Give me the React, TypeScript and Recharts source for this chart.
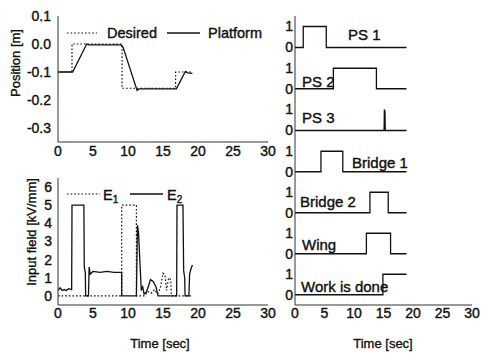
import React from 'react';
import { LineChart, Line, XAxis, YAxis, Legend } from 'recharts';

const FONT = '"Liberation Sans", Arial, Helvetica, sans-serif';
const INK = '#111';
const FRAME = '#333';

// ---- shared ticks ----
const timeTicks = [0, 5, 10, 15, 20, 25, 30];
const posTicks = [-0.3, -0.2, -0.1, 0, 0.1];
const fieldTicks = [0, 1, 2, 3, 4, 5, 6];
const sensorTicks = [0, 1];

// ---- Position [m] ----
const desiredT = [0, 2, 2, 9.15, 9.15, 16.8, 16.8, 19.15];
const desiredV = [-0.1, -0.1, 0, 0, -0.158, -0.158, -0.1, -0.1];
const platformT = [0, 2.1, 4.1, 4.4, 9.0, 9.3, 11.3, 11.6, 16.9, 18.2, 18.5, 19.2];
const platformV = [-0.1, -0.1, 0, -0.003, -0.003, -0.012, -0.166, -0.16, -0.16, -0.098, -0.103, -0.105];

// ---- Input field [kV/mm] ----
const e1T = [0, 9.1, 9.1, 11.2, 11.2, 12.4, 12.8, 13.3, 13.8, 14.2, 14.6, 15.0, 15.3, 15.5, 15.8, 16.1, 16.2, 19.2];
const e1V = [0, 0, 5, 5, 0, 0, 0.25, 0.15, 0.35, 0.1, 0.4, 1.25, 1.15, 0.3, 1.0, 0.9, 0, 0];
const e2T = [0, 0.3, 0.6, 0.9, 1.2, 1.5, 1.95, 2.0, 3.7, 3.75, 3.9, 3.95, 4.35, 4.45, 4.6, 5.0, 6.0, 7.0, 8.0, 9.1, 9.1, 11.2, 11.35, 11.5, 11.9, 12.1, 12.3, 12.6, 12.9, 13.2, 13.6, 14.0, 14.3, 16.95, 17.0, 17.85, 17.95, 18.1, 18.15, 18.7, 18.8, 19.0, 19.2];
const e2V = [0.3, 0.45, 0.3, 0.35, 0.3, 0.4, 0.35, 5, 5, 1.6, 1.3, 0, 0, 1.6, 1.2, 1.35, 1.3, 1.35, 1.3, 1.3, 0, 0, 3.9, 3.5, 0.3, 0.5, 0.1, 0.2, 0.5, 0.9, 0.8, 0.5, 0, 0, 5, 5, 1.4, 1.0, 0, 0, 1.2, 1.5, 1.7];

// ---- sensor states ----
const sensorNames = ['PS 1', 'PS 2', 'PS 3', 'Bridge 1', 'Bridge 2', 'Wing', 'Work is done'];
const ps1T = [0, 1.4, 1.4, 5.3, 5.3, 18.9];
const ps1V = [0, 0, 1, 1, 0, 0];
const ps2T = [0, 6.5, 6.5, 13.8, 13.8, 18.9];
const ps2V = [0, 0, 1, 1, 0, 0];
const ps3T = [0, 15.1, 15.15, 15.25, 15.3, 18.9];
const ps3V = [0, 0, 1, 0.9, 0, 0];
const bridge1T = [0, 4.4, 4.4, 8.1, 8.1, 18.9];
const bridge1V = [0, 0, 1, 1, 0, 0];
const bridge2T = [0, 12.7, 12.7, 15.8, 15.8, 18.9];
const bridge2V = [0, 0, 1, 1, 0, 0];
const wingT = [0, 12.1, 12.1, 16.2, 16.2, 18.9];
const wingV = [0, 0, 1, 1, 0, 0];
const doneT = [0, 14.9, 14.9, 18.9];
const doneV = [0, 0, 1, 1];

const zip = (t: number[], v: number[]) => t.map((x, i) => ({ t: x, v: v[i] }));

const sensorSeries = [
  zip(ps1T, ps1V),
  zip(ps2T, ps2V),
  zip(ps3T, ps3V),
  zip(bridge1T, bridge1V),
  zip(bridge2T, bridge2V),
  zip(wingT, wingV),
  zip(doneT, doneV),
];

// ---- layout (styles only) ----
const panelTops = [16, 58, 99, 141, 182, 223, 264];
const panelBottom = 305;
const panelLabelPos = [
  { x: 78, cy: 19 },
  { x: 32, cy: 24 },
  { x: 32, cy: 19 },
  { x: 82, cy: 22 },
  { x: 30, cy: 20 },
  { x: 32, cy: 22 },
  { x: 31, cy: 23 },
];

const HEAVY = { stroke: INK, strokeWidth: 0.4 };
const tickStyle = { fontFamily: FONT, fontSize: 14, fill: INK, ...HEAVY };
const DOT = '1.6 2';

const title = (text: string, x: number, y: number, rotate: boolean) => () => (
  <text
    x={x}
    y={y}
    textAnchor="middle"
    dominantBaseline="central"
    transform={rotate ? `rotate(-90 ${x} ${y})` : undefined}
    fontFamily={FONT}
    fontSize={13}
    fill={INK}
    stroke={INK}
    strokeWidth={0.35}
  >
    {text}
  </text>
);

export default function App() {
  return (
    <div style={{ position: 'absolute', left: 0, top: 0, width: 481, height: 356, background: '#fff', overflow: 'hidden' }}>
      {/* Position chart */}
      <div style={{ position: 'absolute', left: 0, top: 0 }}>
        <LineChart width={285} height={160} margin={{ top: 16, right: 17, left: 0, bottom: 0 }}>
          <XAxis dataKey="t" type="number" domain={[0, 30]} ticks={timeTicks} interval={0} allowDataOverflow
            tickLine={false} tickSize={0} tickMargin={4} height={18} axisLine={{ stroke: FRAME }} tick={tickStyle} />
          <XAxis xAxisId="top" orientation="top" dataKey="t" type="number" domain={[0, 30]} ticks={timeTicks} mirror height={0}
            tick={false} tickSize={3} tickLine={{ stroke: FRAME }} axisLine={{ stroke: FRAME }} />
          <XAxis xAxisId="in" dataKey="t" type="number" domain={[0, 30]} ticks={timeTicks} mirror height={0}
            tick={false} tickSize={3} tickLine={{ stroke: FRAME }} axisLine={false} />
          <YAxis type="number" domain={[-0.35, 0.1]} ticks={posTicks} interval={0} allowDataOverflow width={58}
            tickFormatter={(v: number) => v.toFixed(1)} tickLine={false} tickSize={0} tickMargin={7}
            axisLine={{ stroke: FRAME }} tick={tickStyle}
            label={title('Position [m]', 15, 63, true)} />
          <YAxis yAxisId="right" orientation="right" type="number" domain={[-0.35, 0.1]} ticks={posTicks} mirror width={0}
            tick={false} tickSize={3} tickLine={{ stroke: FRAME }} axisLine={{ stroke: FRAME }} />
          <YAxis yAxisId="in" type="number" domain={[-0.35, 0.1]} ticks={posTicks} mirror width={0}
            tick={false} tickSize={3} tickLine={{ stroke: FRAME }} axisLine={false} />
          <Line data={zip(desiredT, desiredV)} dataKey="v" name="Desired" type="linear" stroke={INK} strokeWidth={1.2}
            strokeDasharray={DOT} dot={false} activeDot={false} isAnimationActive={false} />
          <Line data={zip(platformT, platformV)} dataKey="v" name="Platform" type="linear" stroke={INK} strokeWidth={1.3}
            dot={false} activeDot={false} isAnimationActive={false} />
          <Legend layout="vertical" align="center" verticalAlign="middle"
            wrapperStyle={{ left: 0, top: 0, width: 272, height: 50 }}
            content={() => (
              <svg width={272} height={50} style={{ display: 'block' }}>
                <line x1={67} x2={97} y1={33} y2={33} stroke={INK} strokeWidth={1.2} strokeDasharray={DOT} />
                <text x={107} y={38} fontFamily={FONT} fontSize={14.5} fill={INK} {...HEAVY}>Desired</text>
                <line x1={167} x2={200} y1={33} y2={33} stroke={INK} strokeWidth={1.3} />
                <text x={208} y={38} fontFamily={FONT} fontSize={14.5} fill={INK} {...HEAVY}>Platform</text>
              </svg>
            )} />
        </LineChart>
      </div>

      {/* Input field chart */}
      <div style={{ position: 'absolute', left: 0, top: 170 }}>
        <LineChart width={285} height={186} margin={{ top: 8, right: 17, left: 0, bottom: 0 }}>
          <XAxis dataKey="t" type="number" domain={[0, 30]} ticks={timeTicks} interval={0} allowDataOverflow
            tickLine={false} tickSize={0} tickMargin={3} height={51} axisLine={{ stroke: FRAME }} tick={tickStyle}
            label={title('Time [sec]', 160, 173, false)} />
          <XAxis xAxisId="top" orientation="top" dataKey="t" type="number" domain={[0, 30]} ticks={timeTicks} mirror height={0}
            tick={false} tickSize={3} tickLine={{ stroke: FRAME }} axisLine={{ stroke: FRAME }} />
          <XAxis xAxisId="in" dataKey="t" type="number" domain={[0, 30]} ticks={timeTicks} mirror height={0}
            tick={false} tickSize={3} tickLine={{ stroke: FRAME }} axisLine={false} />
          <YAxis type="number" domain={[-0.5, 6.5]} ticks={fieldTicks} interval={0} allowDataOverflow width={58}
            tickLine={false} tickSize={0} tickMargin={6} axisLine={{ stroke: FRAME }} tick={tickStyle}
            label={title('Input field [kV/mm]', 31, 62, true)} />
          <YAxis yAxisId="right" orientation="right" type="number" domain={[-0.5, 6.5]} ticks={fieldTicks} mirror width={0}
            tick={false} tickSize={3} tickLine={{ stroke: FRAME }} axisLine={{ stroke: FRAME }} />
          <YAxis yAxisId="in" type="number" domain={[-0.5, 6.5]} ticks={fieldTicks} mirror width={0}
            tick={false} tickSize={3} tickLine={{ stroke: FRAME }} axisLine={false} />
          <Line data={zip(e1T, e1V)} dataKey="v" name="E1" type="linear" stroke={INK} strokeWidth={1.2}
            strokeDasharray={DOT} dot={false} activeDot={false} isAnimationActive={false} />
          <Line data={zip(e2T, e2V)} dataKey="v" name="E2" type="linear" stroke={INK} strokeWidth={1.3}
            dot={false} activeDot={false} isAnimationActive={false} />
          <Legend layout="vertical" align="center" verticalAlign="middle"
            wrapperStyle={{ left: 0, top: 0, width: 272, height: 40 }}
            content={() => (
              <svg width={272} height={40} style={{ display: 'block' }}>
                <line x1={67} x2={100} y1={24} y2={24} stroke={INK} strokeWidth={1.2} strokeDasharray={DOT} />
                <text x={103} y={30} fontFamily={FONT} fontSize={14.5} fill={INK} {...HEAVY}>E<tspan fontSize={10} dy={3}>1</tspan></text>
                <line x1={130} x2={163} y1={24} y2={24} stroke={INK} strokeWidth={1.3} />
                <text x={167} y={30} fontFamily={FONT} fontSize={14.5} fill={INK} {...HEAVY}>E<tspan fontSize={10} dy={3}>2</tspan></text>
              </svg>
            )} />
        </LineChart>
      </div>

      {/* Sensor panels */}
      {sensorSeries.map((series, i) => {
        const last = i === sensorSeries.length - 1;
        const top = panelTops[i];
        const bottom = last ? panelBottom : panelTops[i + 1];
        const ph = bottom - top;
        const xh = last ? 51 : 0;
        const h = ph + 1 + (last ? xh : 1);
        const lp = panelLabelPos[i];
        return (
          <div key={sensorNames[i]} style={{ position: 'absolute', left: 270, top: top - 1 }}>
            <LineChart width={211} height={h} margin={{ top: 1, right: 9, left: 0, bottom: last ? 0 : 1 }}>
              <XAxis dataKey="t" type="number" domain={[0, 30]} ticks={timeTicks} interval={0} allowDataOverflow
                tickLine={false} tickSize={0} tickMargin={3} height={xh} axisLine={{ stroke: FRAME }}
                tick={last ? tickStyle : false}
                label={last ? title('Time [sec]', 113, 80, false) : undefined} />
              <XAxis xAxisId="top" orientation="top" dataKey="t" type="number" domain={[0, 30]} ticks={timeTicks} mirror height={0}
                tick={false} tickLine={false} axisLine={{ stroke: FRAME }} />
              <YAxis type="number" domain={[-0.5, 1.5]} ticks={sensorTicks} interval={0} allowDataOverflow width={25}
                tickLine={false} tickSize={0} tickMargin={2} axisLine={{ stroke: FRAME }} tick={tickStyle} />
              <YAxis yAxisId="right" orientation="right" type="number" domain={[-0.5, 1.5]} ticks={sensorTicks} mirror width={0}
                tick={false} tickLine={false} axisLine={{ stroke: FRAME }} />
              <Line data={series} dataKey="v" name={sensorNames[i]} type="linear" stroke={INK} strokeWidth={1.3}
                dot={false} activeDot={false} isAnimationActive={false} />
              <Legend layout="vertical" align="center" verticalAlign="middle"
                wrapperStyle={{ left: lp.x, top: lp.cy + 1 - 8, width: 'auto', height: 16 }}
                content={() => (
                  <div style={{ fontFamily: FONT, fontSize: 15, lineHeight: '16px', color: INK, whiteSpace: 'nowrap', WebkitTextStroke: '0.4px #111' }}>
                    {sensorNames[i]}
                  </div>
                )} />
            </LineChart>
          </div>
        );
      })}
    </div>
  );
}
